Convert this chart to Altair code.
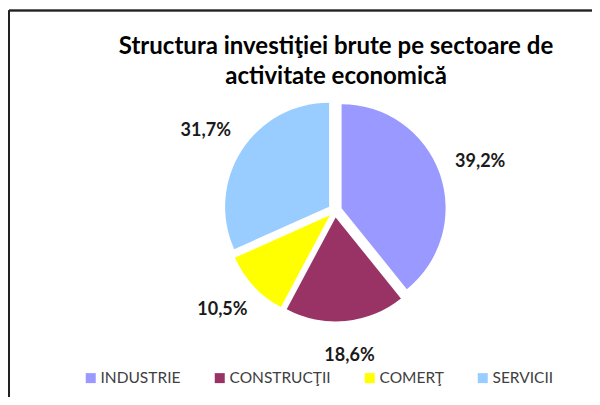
import altair as alt
import pandas as pd

categories = ["INDUSTRIE", "CONSTRUCŢII", "COMERŢ", "SERVICII"]
values = [39.2, 18.6, 10.5, 31.7]
colors = ["#9999FF", "#993366", "#FFFF00", "#99CCFF"]
title_lines = ["Structura investiţiei brute pe sectoare de", "activitate economică"]

df = pd.DataFrame({"sector": categories, "value": values, "order": list(range(len(categories)))})

CX, CY, R, EXPL = 327, 202.5, 104, 7
LR, LEXTRA = 146, 8

base = alt.Chart(df).transform_window(
    cum="sum(value)", sort=[alt.SortField("order")], frame=[None, 0]
).transform_joinaggregate(total="sum(value)").transform_calculate(
    a1="datum.cum / datum.total * 2 * PI",
    a0="(datum.cum - datum.value) / datum.total * 2 * PI",
).transform_calculate(
    mid="(datum.a0 + datum.a1) / 2"
).transform_calculate(
    cx=f"{CX} + {EXPL} * sin(datum.mid)",
    cy=f"{CY} - {EXPL} * cos(datum.mid)",
    lx=f"{CX} + {LR} * sin(datum.mid) + {LEXTRA} * sin(datum.mid)",
    ly=f"{CY} - {LR} * cos(datum.mid)",
    label="replace(format(datum.value, '.1f'), '.', ',') + '%'",
)

pie = base.mark_arc(radius=R).encode(
    theta=alt.Theta("a0:Q", scale=None),
    theta2="a1:Q",
    x=alt.X("cx:Q", scale=None),
    y=alt.Y("cy:Q", scale=None),
    color=alt.Color(
        "sector:N",
        scale=alt.Scale(domain=categories, range=colors),
        sort=categories,
        legend=alt.Legend(
            title=None, orient="none", direction="horizontal", columns=4,
            legendX=75, legendY=362, symbolType="square", symbolSize=100,
            symbolStrokeWidth=0, labelFont="Lato", labelFontSize=15.5,
            labelColor="#404040", columnPadding=31, labelOffset=2,
        ),
    ),
)

labels = base.mark_text(font="Lato", fontSize=18, fontWeight="bold", color="#1a1a1a",
                        align="center", baseline="middle").encode(
    x=alt.X("lx:Q", scale=None),
    y=alt.Y("ly:Q", scale=None),
    text="label:N",
)

tdf = pd.DataFrame({"t": title_lines, "i": [0, 1]})
title = alt.Chart(tdf).mark_text(font="Lato", fontSize=24, fontWeight="bold", color="#000000",
                                 align="center", baseline="middle").transform_calculate(
    ty="39 + datum.i * 30", tx="328"
).encode(x=alt.X("tx:Q", scale=None), y=alt.Y("ty:Q", scale=None), text="t:N")

frame_left = alt.Chart(df).mark_rule(color="#222222", strokeWidth=1.5).encode(
    x=alt.value(1), y=alt.value(2.5), y2=alt.value(400))
frame_top = alt.Chart(df).mark_rule(color="#222222", strokeWidth=1.5).encode(
    x=alt.value(1), x2=alt.value(600), y=alt.value(2.5))

chart = alt.layer(frame_left, frame_top, pie, labels, title).properties(
    width=584, height=389, padding=0,
    autosize=alt.AutoSizeParams(type="fit", contains="padding"),
).configure_view(stroke=None)

chart.save("out.html", embed_options={"renderer": "svg", "actions": False})
